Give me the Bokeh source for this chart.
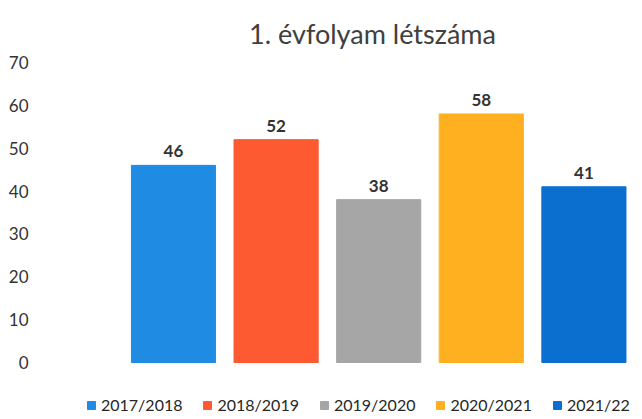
from bokeh.plotting import figure
from bokeh.models import ColumnDataSource, Range1d, FixedTicker, Label, Legend, LegendItem
from bokeh.embed import file_html
from bokeh.resources import INLINE
from bokeh.core.properties import value

# ---- data ----
years = ["2017/2018", "2018/2019", "2019/2020", "2020/2021", "2021/22"]
counts = [46, 52, 38, 58, 41]
colors = ["#1f8be3", "#fd5a31", "#a6a6a6", "#ffb020", "#0b6fd0"]
y_ticks = [0, 10, 20, 30, 40, 50, 60, 70]
title_text = "1. évfolyam létszáma"

FONT = "Lato"

src = ColumnDataSource(dict(
    x=list(range(len(years))),
    top=counts,
    year=years,
    color=colors,
    label=[str(c) for c in counts],
))

p = figure(width=642, height=419, output_backend="svg", toolbar_location=None,
           x_range=Range1d(-1.296, 4.571), y_range=Range1d(-13.3, 84.47),
           min_border_left=40, min_border_right=0, min_border_top=0, min_border_bottom=0)

p.outline_line_color = None
p.xgrid.grid_line_color = None
p.ygrid.grid_line_color = None
p.xaxis.visible = False

ax = p.yaxis[0]
ax.ticker = FixedTicker(ticks=y_ticks)
ax.axis_line_color = None
ax.major_tick_line_color = None
ax.minor_tick_line_color = None
ax.major_label_standoff = 6
ax.major_label_text_font = FONT
ax.major_label_text_font_size = "17px"
ax.major_label_text_color = "#333333"

r = p.vbar(x="x", top="top", bottom=0, width=0.82, color="color", source=src)

p.text(x="x", y="top", text="label", source=src, text_align="center",
       text_baseline="bottom", y_offset=-8, text_font=value(FONT),
       text_font_size="17px", text_font_style="bold", text_color="#333333")

legend = Legend(items=[LegendItem(label=y, renderers=[r], index=i) for i, y in enumerate(years)],
                location=(46, 5), orientation="horizontal",
                border_line_color=None, background_fill_alpha=0,
                padding=0, margin=0, spacing=20, label_standoff=5,
                glyph_width=10, glyph_height=10,
                label_text_font=FONT, label_text_font_size="16px",
                label_text_color="#262626")
p.add_layout(legend)

p.add_layout(Label(x=332, y=386, x_units="screen", y_units="screen", text=title_text,
                   text_align="center", text_baseline="alphabetic",
                   text_font=FONT, text_font_size="27px", text_color="#404040"))

open("out.html", "w").write(file_html(p, INLINE))
